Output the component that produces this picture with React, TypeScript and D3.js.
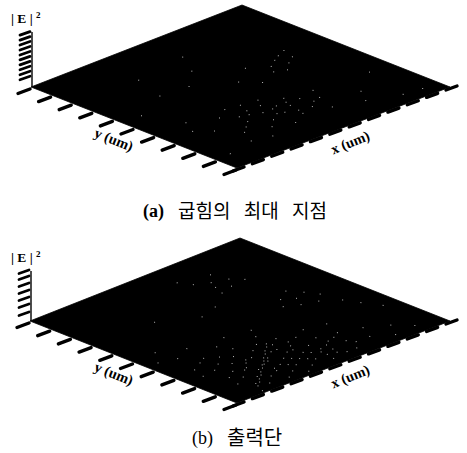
import React from "react";
import * as d3 from "d3";

const xTicks = [0, 1, 2, 3, 4, 5, 6, 7, 8, 9, 10, 11];
const yTicks = [0, 1, 2, 3, 4, 5, 6, 7, 8, 9, 10];
const zTicksA = [0.16, 0.25, 0.34, 0.43, 0.52, 0.61, 0.7, 0.79, 0.88, 0.97];
const zTicksB = [0.14, 0.3, 0.44, 0.58, 0.72, 0.86, 0.98];
const zLabel = "2";
const xLabel = "x (um)";
const yLabel = "y (um)";
const captionA = ["(a)", "굽힘의 최대 지점"];
const captionB = ["(b)", "출력단"];

// Bright speckle positions [x, y] in axis units (x 0–11, y 0–10)
const specksA: [number, number][] = [
  [2.2,1.4],[2.6,2.1],[3.1,1.2],[3.4,2.7],[3.7,1.8],[3.9,3.1],[4.2,2.2],[4.4,2.9],[4.6,1.5],[4.8,3.4],
  [5.0,2.4],[5.2,3.0],[5.4,1.9],[5.6,2.7],[5.9,3.3],[6.1,2.1],[6.3,2.9],[6.6,1.6],[6.9,2.5],[7.2,3.1],
  [1.9,2.9],[2.9,3.6],[3.6,4.0],[4.3,3.9],[5.1,3.8],[1.3,3.4],[1.7,4.1],[7.9,1.2],[8.4,1.9],[9.3,0.7],
  [7.4,5.2],[7.7,5.6],[7.9,5.0],[8.2,5.9],[8.4,5.4],[8.6,6.1],[8.9,5.7],[9.1,6.3],[6.9,6.1],[6.4,4.8],
  [4.2,6.3],[5.3,7.2],[2.8,6.4],[3.3,7.9],[6.0,8.3],[9.9,2.9],[10.2,0.6],[1.0,5.6],[0.8,1.1],[5.8,5.4],
  [4.7,2.5],[5.5,2.2],[4.9,2.9],[5.7,3.0],[3.5,3.2],[4.1,3.4],[6.5,2.4],[3.0,2.4],
];
const specksB: [number, number][] = [
  [0.9,2.5],[1.1,3.1],[1.3,1.2],[1.5,1.8],[1.6,2.6],[1.7,3.4],[1.8,0.8],[1.9,1.5],[2.0,2.1],[2.1,2.9],
  [2.1,3.6],[2.2,0.5],[2.3,1.2],[2.4,1.9],[2.5,2.6],[2.6,3.3],[2.7,0.9],[2.8,1.6],[2.9,2.3],[3.0,3.0],
  [3.1,0.4],[3.2,1.1],[3.3,1.8],[3.4,2.5],[3.5,3.5],[3.6,0.7],[3.7,1.4],[3.8,2.1],[3.9,2.9],[4.0,0.3],
  [4.1,1.0],[4.2,1.7],[4.3,2.4],[4.4,3.2],[4.5,0.6],[4.6,1.3],[4.7,2.0],[4.8,2.8],[4.9,3.7],[5.0,0.9],
  [5.1,1.6],[5.2,2.3],[5.3,3.1],[5.5,0.5],[5.6,1.2],[5.7,1.9],[5.9,2.7],[6.0,0.8],[6.2,1.5],[6.4,2.2],
  [6.6,3.0],[6.8,0.6],[7.0,1.3],[7.3,2.0],[7.6,2.8],[7.9,1.0],[8.3,1.7],[8.7,0.5],[9.2,1.2],[9.8,0.6],
  [1.4,4.2],[2.3,4.6],[3.2,4.0],[4.0,4.4],[5.2,4.2],[0.6,4.4],[1.2,5.1],
  [7.6,4.9],[8.0,5.4],[8.2,4.6],[8.5,5.1],[8.7,5.8],[8.9,4.4],[9.1,5.3],[9.4,4.8],[9.6,3.9],[9.9,3.3],[10.3,2.6],
  [6.9,7.2],[7.1,7.7],[7.3,8.1],[7.6,7.4],[8.0,7.9],[8.4,7.5],[6.7,8.4],[6.4,8.9],[7.8,8.6],[5.8,6.5],[4.8,6.2],[3.2,7.0],
  [4.7,3.0],[4.5,2.8],[4.2,2.6],[4.0,2.4],[3.7,2.2],[3.5,2.0],[3.2,1.8],[3.0,1.6],[2.7,1.4],[2.5,1.2],[2.2,1.0],[2.0,0.8],[1.7,0.6],[1.5,0.2],
  [3.3,1.3],[3.6,1.9],[3.9,1.2],[4.4,1.5],[4.8,1.1],[5.3,1.4],[5.6,0.9],[6.1,1.1],[6.5,1.7],[5.0,2.0],[5.4,2.6],[4.6,2.4],[3.1,2.5],[2.6,2.0],[6.9,1.8],[7.2,1.0],[6.3,0.6],[5.8,1.4],
];

type Corners = { left: [number, number]; bottom: [number, number]; right: [number, number]; top: [number, number]; zTop: number; labelY: number; capY: number };

function Panel({ c, zTicks, specks, caption, capX, capKx, capBold, words }: { c: Corners; zTicks: number[]; specks: [number, number][]; caption: string[]; capX: number; capKx: number; capBold: boolean; words: number }) {
  const ux = d3.scaleLinear().domain([0, 11]).range([0, c.right[0] - c.bottom[0]]);
  const uy = d3.scaleLinear().domain([0, 11]).range([0, c.right[1] - c.bottom[1]]);
  const vx = d3.scaleLinear().domain([0, 10]).range([0, c.left[0] - c.bottom[0]]);
  const vy = d3.scaleLinear().domain([0, 10]).range([0, c.left[1] - c.bottom[1]]);
  const px = (x: number, y: number) => c.bottom[0] + ux(x) + vx(y);
  const py = (x: number, y: number) => c.bottom[1] + uy(x) + vy(y);
  const z = d3.scaleLinear().domain([0, 1]).range([c.left[1], c.zTop]);
  const poly = [c.left, c.top, c.right, c.bottom];
  const line = d3.line().curve(d3.curveLinearClosed);
  const tickStyle = { stroke: "#000", strokeWidth: 3.4, strokeLinecap: "round" as const };
  return (
    <g>
      <g filter="url(#scan)">
        <path d={line(poly as [number, number][]) ?? ""} fill="#020202" stroke="#000" strokeWidth={0.8} />
        {specks.map(([x, y], i) => (
          <rect key={i} x={px(x, y)} y={py(x, y)} width={1} height={1} fill="#b4b4b4" />
        ))}
        <line x1={c.left[0] + 1} x2={c.left[0] + 1} y1={c.left[1]} y2={c.zTop} stroke="#000" strokeWidth={1.4} />
        {zTicks.map((t) => (
          <line key={t} x1={c.left[0] - 1} y1={z(t) - 2} x2={c.left[0] - 11} y2={z(t) + 1.5} {...tickStyle} strokeWidth={2.8} />
        ))}
        {yTicks.map((t) => (
          <line key={t} x1={px(0, t) - 1} y1={py(0, t) + 2} x2={px(0, t) - 13} y2={py(0, t) + 6.5} {...tickStyle} />
        ))}
        {xTicks.map((t) => (
          <line key={t} x1={px(t, 0) - 4} y1={py(t, 0) + 3} x2={px(t, 0) + 7} y2={py(t, 0) - 1} {...tickStyle} />
        ))}
      </g>
      <text x={11} y={c.labelY} fontFamily="Liberation Serif" fontWeight="bold" fontSize={13.5}>
        | E | <tspan fontSize={9} dy={-5}>{zLabel}</tspan>
      </text>
      <text transform={`translate(112,${c.left[1] + 57}) rotate(22)`} textAnchor="middle" fontFamily="Liberation Serif" fontWeight="bold" fontSize={14.5}>{yLabel}</text>
      <text transform={`translate(352,${c.left[1] + 60}) rotate(-22)`} textAnchor="middle" fontFamily="Liberation Serif" fontWeight="bold" fontSize={14.5}>{xLabel}</text>
      <text x={capX} y={c.capY} fontFamily="Liberation Serif" fontWeight={capBold ? "bold" : "normal"} fontSize={18}>{caption[0]}</text>
      <text x={capKx} y={c.capY + 1} fontFamily="'Noto Sans CJK KR'" fontSize={words > 1 ? 19 : 20} wordSpacing={words > 1 ? 9 : 0}>{caption[1]}</text>
    </g>
  );
}

const panelA: Corners = { left: [31, 87], top: [242, 5], right: [450, 87], bottom: [237, 168], zTop: 32, labelY: 23, capY: 217 };
const panelB: Corners = { left: [30, 321], top: [240, 238], right: [450, 321], bottom: [237, 403], zTop: 271, labelY: 262, capY: 444 };

export default function App() {
  return (
    <svg width={467} height={453} style={{ position: "absolute", left: 0, top: 0, background: "#fff" }}>
      <defs>
        <filter id="scan" x="-5%" y="-5%" width="110%" height="110%">
          <feGaussianBlur stdDeviation={0.45} />
        </filter>
      </defs>
      <Panel c={panelA} zTicks={zTicksA} specks={specksA} caption={captionA} capX={143} capKx={178} capBold={true} words={3} />
      <Panel c={panelB} zTicks={zTicksB} specks={specksB} caption={captionB} capX={192} capKx={227} capBold={false} words={1} />
    </svg>
  );
}
